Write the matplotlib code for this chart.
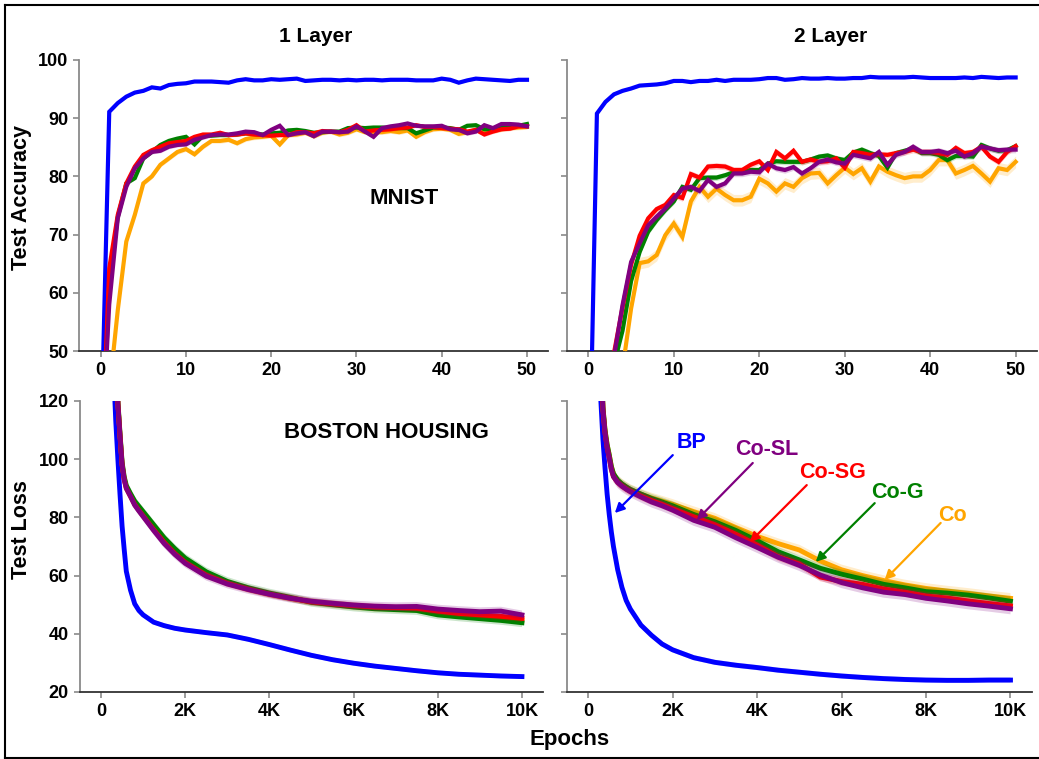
import matplotlib
matplotlib.use("Agg")
import matplotlib.pyplot as plt
from matplotlib.lines import Line2D

plt.rcParams['font.family'] = ['Liberation Sans', 'DejaVu Sans']
plt.rcParams['font.weight'] = 'bold'

# ---------------- data ----------------
methods = ['BP', 'Co', 'Co-G', 'Co-SG', 'Co-SL']
colors = {'BP': 'blue', 'Co': 'orange', 'Co-G': 'green', 'Co-SG': 'red', 'Co-SL': 'purple'}

acc_epochs = list(range(51))

acc1_bp = [32, 91.1, 92.6, 93.7, 94.4, 94.7, 95.3, 95.1, 95.7, 95.9, 96.0,
           96.3, 96.3, 96.3, 96.2, 96.1, 96.5, 96.7, 96.5, 96.5, 96.7,
           96.6, 96.7, 96.8, 96.4, 96.5, 96.6, 96.6, 96.5, 96.6, 96.5,
           96.6, 96.6, 96.5, 96.6, 96.6, 96.6, 96.5, 96.5, 96.5, 96.8,
           96.6, 96.1, 96.5, 96.8, 96.7, 96.6, 96.5, 96.4, 96.6, 96.6]
acc1_co = [20, 43, 57, 68.8, 73.4, 78.8, 80.0, 82.0, 83.1, 84.2, 84.7,
           83.8, 85.1, 86.1, 86.1, 86.3, 85.7, 86.4, 86.7, 86.8, 87.0,
           85.5, 87.1, 87.2, 87.5, 86.9, 87.5, 87.7, 87.2, 87.5, 88.1,
           87.6, 87.6, 87.6, 87.8, 87.6, 87.9, 86.8, 87.6, 88.1, 88.2,
           88.0, 87.3, 87.6, 88.0, 87.8, 87.8, 88.1, 88.3, 88.4, 88.5]
acc1_cog = [25, 62, 73, 78.8, 79.7, 83.1, 84.2, 85.4, 86.1, 86.5, 86.8,
            85.5, 87.0, 87.0, 87.1, 87.1, 87.2, 87.4, 87.3, 87.2, 87.4,
            87.5, 87.9, 88.0, 87.8, 87.5, 87.6, 87.7, 87.7, 88.3, 88.4,
            88.3, 88.4, 88.4, 88.3, 88.3, 88.3, 87.4, 87.9, 88.4, 88.4,
            88.3, 88.0, 88.7, 88.8, 88.1, 88.1, 88.5, 88.6, 88.7, 89.0]
acc1_cosg = [27, 64.2, 73.4, 78.8, 81.7, 83.7, 84.5, 85.1, 85.7, 85.9, 86.1,
             86.8, 87.2, 87.2, 87.5, 87.1, 87.2, 87.4, 87.2, 87.1, 87.0,
             87.1, 87.1, 87.6, 87.6, 87.4, 87.8, 87.7, 87.6, 88.0, 88.8,
             87.7, 87.9, 88.0, 88.1, 88.3, 88.4, 88.8, 88.5, 88.5, 88.3,
             88.2, 88.1, 87.7, 88.0, 87.2, 87.7, 88.1, 88.2, 88.6, 88.6]
acc1_cosl = [30, 58, 72.8, 78.2, 81.4, 83.1, 84.2, 84.4, 85.1, 85.4, 85.5,
             86.3, 86.7, 87.1, 87.2, 87.2, 87.4, 87.7, 87.6, 87.1, 88.0,
             88.7, 87.1, 87.4, 87.6, 86.9, 87.7, 87.7, 87.6, 87.7, 88.6,
             87.7, 86.8, 88.3, 88.6, 88.8, 89.1, 88.7, 88.6, 88.6, 88.7,
             88.1, 88.0, 87.4, 87.7, 88.8, 88.3, 89.0, 89.0, 88.9, 88.6]

acc2_bp = [19, 90.8, 92.8, 94.1, 94.7, 95.1, 95.6, 95.7, 95.8, 96.0, 96.4,
           96.4, 96.2, 96.4, 96.4, 96.6, 96.4, 96.6, 96.6, 96.6, 96.7,
           96.9, 96.9, 96.6, 96.7, 96.9, 96.8, 96.8, 96.9, 96.8, 96.8,
           96.9, 96.9, 97.1, 97.0, 97.0, 97.0, 97.0, 97.1, 97.0, 96.9,
           96.9, 96.9, 96.9, 97.0, 96.9, 97.1, 97.0, 96.9, 97.0, 97.0]
acc2_co = [10, 15, 20, 30, 46.9, 57.3, 65.1, 65.4, 66.5, 69.9, 71.9,
           69.6, 75.7, 78.2, 76.5, 77.9, 76.8, 75.9, 75.9, 76.5, 79.6,
           78.8, 77.4, 78.8, 78.2, 79.7, 80.5, 80.6, 78.8, 80.2, 81.5,
           80.4, 81.4, 79.1, 81.7, 80.8, 80.2, 79.7, 80.0, 80.0, 81.1,
           82.8, 82.8, 80.5, 81.1, 81.8, 80.5, 79.1, 81.4, 81.1, 82.5]
acc2_cog = [10, 15, 22, 47.7, 53.5, 62, 67, 70.5, 72.5, 74.2, 75.7,
            78.2, 77.7, 79.7, 79.8, 79.8, 80.2, 80.7, 80.8, 81.1, 81.1,
            82.2, 82.6, 82.5, 82.5, 82.5, 82.9, 83.4, 83.6, 83.1, 82.8,
            84.1, 84.6, 84.0, 83.5, 81.5, 84.0, 84.4, 84.8, 84.0, 84.0,
            83.7, 82.8, 83.5, 83.5, 83.4, 85.4, 84.8, 84.4, 84.5, 85.2]
acc2_cosg = [10, 15, 25, 49.7, 57.5, 64.8, 69.8, 72.8, 74.4, 75.1, 76.8,
             76.3, 80.4, 79.8, 81.7, 81.8, 81.7, 81.1, 81.1, 82.0, 82.6,
             81.1, 84.2, 83.1, 84.4, 82.5, 82.9, 82.5, 82.6, 83.1, 81.5,
             84.2, 84.0, 83.7, 83.8, 83.7, 84.0, 84.2, 84.6, 84.2, 84.2,
             84.0, 83.7, 84.9, 84.0, 84.2, 85.1, 83.4, 82.5, 84.2, 85.2]
acc2_cosl = [10, 15, 25, 49, 57.9, 65.3, 68.5, 71.6, 73.1, 74.5, 76.2,
             77.9, 78.2, 77.5, 79.4, 78.2, 78.8, 80.5, 80.5, 80.8, 80.7,
             82.2, 81.4, 81.1, 81.6, 80.5, 81.4, 82.5, 82.9, 82.4, 82.2,
             83.7, 83.4, 83.1, 84.2, 82.0, 83.7, 84.2, 85.1, 84.2, 84.2,
             84.4, 84.0, 84.4, 83.4, 84.0, 85.1, 84.8, 84.5, 84.6, 84.6]

acc1_std = {'BP': 0.2, 'Co': 0.4, 'Co-G': 0.3, 'Co-SG': 0.35, 'Co-SL': 0.35}
acc2_std = {'BP': 0.2, 'Co': 1.0, 'Co-G': 0.5, 'Co-SG': 0.55, 'Co-SL': 0.55}

loss_epochs = [0, 300, 350, 400, 450, 500, 550, 600, 700, 800, 900, 1000,
               1250, 1500, 1750, 2000, 2500, 3000, 3500, 4000, 4500, 5000,
               5500, 6000, 6500, 7000, 7500, 8000, 8500, 9000, 9500, 10000]

loss1_bp = [600, 130, 113, 100, 88, 77, 69, 61.5, 55.0, 50.3, 48.0, 46.5,
            44.0, 42.8, 41.9, 41.3, 40.4, 39.6, 38.1, 36.3, 34.4, 32.6,
            31.1, 29.9, 28.9, 28.1, 27.3, 26.6, 26.1, 25.8, 25.5, 25.3]
loss1_co = [600, 200, 151, 119.5, 108.5, 98.5, 93.5, 90.5, 87.7, 85.0, 83.0, 81.2,
            76.6, 72.2, 68.4, 65.2, 60.7, 57.6, 55.5, 53.8, 52.3, 50.9,
            50.1, 49.4, 48.9, 48.6, 48.4, 47.1, 46.4, 45.8, 45.3, 44.6]
loss1_cog = [600, 200, 152, 120, 109, 99, 94, 91, 88.2, 85.6, 83.8, 82.0,
             77.5, 73.0, 69.3, 66.0, 61.3, 58.0, 55.8, 54.0, 52.5, 50.8,
             50.0, 49.2, 48.6, 48.3, 48.0, 46.5, 45.8, 45.2, 44.6, 43.8]
loss1_cosg = [600, 200, 150, 119, 108, 98, 93, 90, 87.2, 84.4, 82.4, 80.5,
              75.8, 71.4, 67.6, 64.5, 60.1, 57.3, 55.3, 53.6, 52.2, 51.0,
              50.3, 49.7, 49.2, 49.0, 48.8, 47.8, 47.0, 46.5, 46.0, 45.3]
loss1_cosl = [600, 200, 150, 119, 108, 98, 93, 90, 87.2, 84.2, 82.2, 80.3,
              75.5, 71.0, 67.3, 64.2, 59.8, 57.1, 55.2, 53.6, 52.2, 51.2,
              50.5, 49.9, 49.5, 49.3, 49.4, 48.5, 48.0, 47.6, 47.8, 46.5]

loss2_bp = [600, 120.5, 107, 97, 88, 81, 75, 70, 62, 56, 51.5, 48.5,
            43.0, 39.5, 36.5, 34.5, 31.8, 30.2, 29.2, 28.4, 27.5, 26.8,
            26.1, 25.5, 25.0, 24.6, 24.3, 24.1, 24.0, 24.0, 24.1, 24.1]
loss2_co = [600, 140, 118, 110, 105, 101.5, 97.5, 95, 92.7, 91.5, 90.5, 89.6,
            88.0, 86.7, 85.6, 84.5, 82.0, 79.7, 76.5, 73.5, 71.0, 68.8,
            65.0, 62.0, 60.0, 58.3, 56.8, 55.6, 54.7, 53.9, 53.0, 52.2]
loss2_cog = [600, 140, 118, 110, 105, 101.5, 97.5, 95, 92.8, 91.5, 90.5, 89.6,
             88.0, 86.5, 85.3, 84.0, 81.0, 78.5, 75.5, 72.0, 68.2, 65.4,
             62.5, 60.5, 58.8, 57.0, 55.8, 54.5, 54.0, 53.3, 52.3, 51.2]
loss2_cosg = [600, 140, 117, 109, 104, 100.5, 96.5, 94, 92, 90.8, 89.8, 89.0,
              87.3, 85.8, 84.5, 83.0, 80.2, 77.5, 74.2, 70.5, 66.5, 64.0,
              59.5, 58.0, 57.0, 55.4, 54.3, 53.0, 52.3, 51.3, 50.4, 49.6]
loss2_cosl = [600, 140, 117, 109, 104, 100.5, 96.5, 94, 92, 90.7, 89.7, 88.8,
              87.0, 85.3, 84.0, 82.5, 79.0, 76.6, 73.0, 69.7, 66.3, 63.5,
              60.2, 57.6, 55.8, 54.3, 53.5, 52.2, 51.3, 50.3, 49.5, 48.6]

loss1_std = {'BP': 0.8, 'Co': 1.3, 'Co-G': 1.5, 'Co-SG': 1.2, 'Co-SL': 1.5}
loss2_std = {'BP': 0.9, 'Co': 1.8, 'Co-G': 1.6, 'Co-SG': 1.5, 'Co-SL': 1.9}

acc_ticks = [50, 60, 70, 80, 90, 100]
acc_xticks = [0, 10, 20, 30, 40, 50]
loss_ticks = [20, 40, 60, 80, 100, 120]
loss_xticks = [0, 2000, 4000, 6000, 8000, 10000]
loss_xticklabels = ['0', '2K', '4K', '6K', '8K', '10K']

# annotations (label, text pos, arrow tail, arrow head) in data coords
annot_labels = ['BP', 'Co-SL', 'Co-SG', 'Co-G', 'Co']
annot_text = [(2454, 105.9), (4229, 103.2), (5791, 95.3), (7330, 88.4), (8631, 80.8)]
annot_tail = [(2004, 101.4), (3898, 98.7), (5176, 91.1), (6785, 84.9), (8347, 78.1)]
annot_head = [(632, 81.5), (2573, 79.1), (3827, 71.5), (5389, 64.7), (7021, 58.5)]

# ---------------- figure ----------------
W, H = 1039, 759
fig = plt.figure(figsize=(W / 100, H / 100), dpi=100)


def px_axes(l, t, r, b):
    return fig.add_axes([l / W, 1 - b / H, (r - l) / W, (b - t) / H])


def style(ax, xlim, ylim, yticks, ylabels, xticks, xticklabels):
    ax.set_xlim(xlim)
    ax.set_ylim(ylim)
    for s in ['top', 'right']:
        ax.spines[s].set_visible(False)
    ax.spines['left'].set_color('#8a8a8a')
    ax.spines['left'].set_linewidth(1.3)
    ax.spines['bottom'].set_color('#333333')
    ax.spines['bottom'].set_linewidth(1.3)
    ax.set_yticks(yticks)
    if not ylabels:
        ax.set_yticklabels([])
    ax.set_xticks(xticks)
    ax.set_xticklabels(xticklabels)
    ax.tick_params(axis='both', direction='out', length=4, width=1.2,
                   colors='#8a8a8a', labelcolor='black', labelsize=13, pad=4)
    for lab in ax.get_xticklabels() + ax.get_yticklabels():
        lab.set_fontweight('bold')


def draw(ax, x, series, stds, lw):
    order = ['BP', 'Co', 'Co-G', 'Co-SG', 'Co-SL']
    for i, m in enumerate(order):
        y = series[m]
        s = stds[m]
        lo = [v - s for v in y]
        hi = [v + s for v in y]
        ax.fill_between(x, lo, hi, color=colors[m], alpha=0.2, lw=0, zorder=2 + i)
        ax.plot(x, y, color=colors[m], lw=lw, zorder=3 + i, solid_joinstyle='miter')


ax1 = px_axes(79.4, 60, 548.3, 351)
ax2 = px_axes(567, 60, 1037, 351)
ax3 = px_axes(80, 401, 543, 692)
ax4 = px_axes(567, 401, 1031.6, 692)

draw(ax1, acc_epochs, {'BP': acc1_bp, 'Co': acc1_co, 'Co-G': acc1_cog,
                       'Co-SG': acc1_cosg, 'Co-SL': acc1_cosl}, acc1_std, 3.0)
draw(ax2, acc_epochs, {'BP': acc2_bp, 'Co': acc2_co, 'Co-G': acc2_cog,
                       'Co-SG': acc2_cosg, 'Co-SL': acc2_cosl}, acc2_std, 3.0)
draw(ax3, loss_epochs, {'BP': loss1_bp, 'Co': loss1_co, 'Co-G': loss1_cog,
                        'Co-SG': loss1_cosg, 'Co-SL': loss1_cosl}, loss1_std, 3.5)
draw(ax4, loss_epochs, {'BP': loss2_bp, 'Co': loss2_co, 'Co-G': loss2_cog,
                        'Co-SG': loss2_cosg, 'Co-SL': loss2_cosl}, loss2_std, 3.5)

style(ax1, (-2.5, 52.5), (50, 100), acc_ticks, True, acc_xticks, [str(t) for t in acc_xticks])
style(ax2, (-2.5, 52.5), (50, 100), acc_ticks, False, acc_xticks, [str(t) for t in acc_xticks])
style(ax3, (-500, 10500), (20, 120), loss_ticks, True, loss_xticks, loss_xticklabels)
style(ax4, (-500, 10500), (20, 120), loss_ticks, False, loss_xticks, loss_xticklabels)

for lab, tp, tl, hd in zip(annot_labels, annot_text, annot_tail, annot_head):
    c = colors[lab]
    ax4.annotate('', xy=hd, xytext=tl,
                 arrowprops=dict(arrowstyle='-|>', color=c, lw=1.6,
                                 mutation_scale=14, shrinkA=0, shrinkB=0),
                 zorder=20)
    ax4.text(tp[0], tp[1], lab, color=c, fontsize=15.5, fontweight='bold',
             ha='center', va='center', zorder=21)

# texts
fig.text(316 / W, 1 - 37 / H, '1 Layer', ha='center', va='center', fontsize=15, fontweight='bold')
fig.text(831 / W, 1 - 37 / H, '2 Layer', ha='center', va='center', fontsize=15, fontweight='bold')
fig.text(22 / W, 1 - 197 / H, 'Test Accuracy', ha='center', va='center', rotation=90,
         fontsize=15.5, fontweight='bold')
fig.text(22 / W, 1 - 530 / H, 'Test Loss', ha='center', va='center', rotation=90,
         fontsize=15.5, fontweight='bold')
fig.text(570 / W, 1 - 740 / H, 'Epochs', ha='center', va='center', fontsize=16, fontweight='bold')
fig.text(404 / W, 1 - 198 / H, 'MNIST', ha='center', va='center', fontsize=16, fontweight='bold')
fig.text(386 / W, 1 - 433 / H, 'BOSTON HOUSING', ha='center', va='center', fontsize=16,
         fontweight='bold')

# frame border
bl = 1.5
fig.add_artist(Line2D([5 / W, 1], [1 - 5 / H, 1 - 5 / H], transform=fig.transFigure, color='black', lw=bl))
fig.add_artist(Line2D([5 / W, 5 / W], [1 - 5 / H, 1 - 758 / H], transform=fig.transFigure, color='black', lw=bl))
fig.add_artist(Line2D([5 / W, 1], [1 - 758 / H, 1 - 758 / H], transform=fig.transFigure, color='black', lw=bl))

fig.savefig('out.png', dpi=100)
